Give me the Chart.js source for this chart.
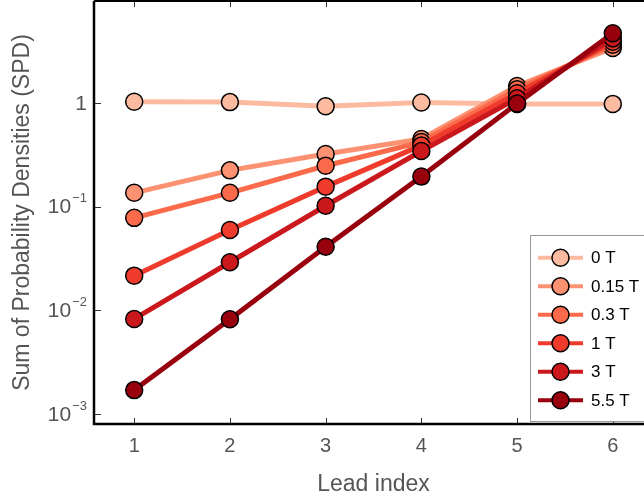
<!DOCTYPE html>
<html>
<head>
<meta charset="utf-8">
<script src="https://cdn.jsdelivr.net/npm/chart.js@4"></script>
<style>
  html, body { margin: 0; padding: 0; background: #fff; overflow: hidden; }
  #wrap { width: 644px; height: 501px; overflow: hidden; }
</style>
</head>
<body>
<div id="wrap"><canvas id="spdChart" width="660" height="501"></canvas></div>
<script>
// data
var leadIndex = [1, 2, 3, 4, 5, 6];
var fieldLabels = ['0 T', '0.15 T', '0.3 T', '1 T', '3 T', '5.5 T'];
var spd0T   = [1.03, 1.02, 0.93, 1.01, 0.98, 0.98];
var spd015T = [0.136, 0.224, 0.322, 0.45, 1.46, 3.4];
var spd03T  = [0.078, 0.136, 0.248, 0.42, 1.36, 3.65];
var spd1T   = [0.0216, 0.0596, 0.156, 0.39, 1.24, 3.9];
var spd3T   = [0.00826, 0.0291, 0.102, 0.344, 1.11, 4.2];
var spd55T  = [0.0017, 0.0082, 0.041, 0.195, 0.99, 4.7];
var yTickValues = [0.001, 0.01, 0.1, 1];
var yTickLabels = [['10', '\u22123'], ['10', '\u22122'], ['10', '\u22121'], ['1', '']];

var colors = ['#fcbba1', '#fc9272', '#fb6a4a', '#ef3b2c', '#cb181d', '#99000d'];
var allSeries = [spd0T, spd015T, spd03T, spd1T, spd3T, spd55T];
var font = 'Liberation Sans, Arial, Helvetica, sans-serif';
var grey = '#555';

var datasets = allSeries.map(function (vals, i) {
  return {
    label: fieldLabels[i],
    data: leadIndex.map(function (x, j) { return { x: x, y: vals[j] }; }),
    borderColor: colors[i],
    backgroundColor: colors[i],
    borderWidth: 5,
    pointRadius: 8.5,
    pointBorderWidth: 1.5,
    pointBorderColor: '#000',
    pointBackgroundColor: colors[i],
    tension: 0,
    order: allSeries.length - 1 - i   // darkest drawn last
  };
});

// frame, inward ticks, y labels with superscripts, legend box
var decorations = {
  id: 'decorations',
  afterDraw: function (chart) {
    var c = chart.ctx, a = chart.chartArea;
    var xs = chart.scales.x, ys = chart.scales.y;
    c.save();

    // ticks
    c.strokeStyle = '#333';
    c.lineWidth = 1;
    leadIndex.forEach(function (v) {
      var px = Math.round(xs.getPixelForValue(v)) + 0.5;
      c.beginPath();
      c.moveTo(px, a.bottom); c.lineTo(px, a.bottom - 6);
      c.moveTo(px, a.top); c.lineTo(px, a.top + 6);
      c.stroke();
    });
    yTickValues.forEach(function (v) {
      var py = Math.round(ys.getPixelForValue(v)) + 0.5;
      c.beginPath();
      c.moveTo(a.left, py); c.lineTo(a.left + 7, py);
      c.stroke();
    });

    // frame
    c.strokeStyle = '#000';
    c.lineWidth = 2.5;
    c.beginPath();
    c.moveTo(a.left, a.top); c.lineTo(a.left, a.bottom); c.lineTo(a.right, a.bottom);
    c.stroke();
    c.lineWidth = 2;
    c.beginPath();
    c.moveTo(a.left, a.top); c.lineTo(a.right, a.top); c.lineTo(a.right, a.bottom);
    c.stroke();

    // y tick labels
    c.fillStyle = grey;
    c.textBaseline = 'middle';
    yTickValues.forEach(function (v, i) {
      var py = ys.getPixelForValue(v);
      var base = yTickLabels[i][0], exp = yTickLabels[i][1];
      var right = a.left - 7;
      c.font = '13px ' + font;
      var ew = exp ? c.measureText(exp).width : 0;
      if (exp) {
        c.textAlign = 'right';
        c.fillText(exp, right, py - 8);
      }
      c.font = '21px ' + font;
      c.textAlign = 'right';
      c.fillText(base, right - ew - (exp ? 1 : 0), py + 1);
    });

    // legend
    var lx = 530.5, ly = 235.5, lh = 186;
    c.fillStyle = '#fff';
    c.fillRect(lx, ly, 140, lh);
    c.strokeStyle = '#999';
    c.lineWidth = 1;
    c.strokeRect(lx, ly, 140, lh);
    chart.data.datasets.forEach(function (ds, i) {
      var ry = 257.7 + i * 28.5;
      c.strokeStyle = ds.borderColor;
      c.lineWidth = 4;
      c.beginPath();
      c.moveTo(538, ry); c.lineTo(583, ry);
      c.stroke();
      c.beginPath();
      c.arc(560.5, ry, 8.5, 0, Math.PI * 2);
      c.fillStyle = ds.pointBackgroundColor;
      c.fill();
      c.lineWidth = 1.5;
      c.strokeStyle = '#000';
      c.stroke();
      c.fillStyle = '#000';
      c.font = '17px ' + font;
      c.textAlign = 'left';
      c.textBaseline = 'middle';
      c.fillText(ds.label, 591, ry + 1);
    });
    c.restore();
  }
};

var ctx = document.getElementById('spdChart');
var chart = new Chart(ctx, {
  type: 'line',
  data: { datasets: datasets },
  options: {
    responsive: false,
    animation: false,
    devicePixelRatio: 1,
    layout: { autoPadding: false, padding: { top: 1, right: 7, left: 0, bottom: 0 } },
    plugins: { legend: { display: false }, tooltip: { enabled: false } },
    scales: {
      x: {
        type: 'linear',
        min: 0.58,
        max: 6.42,
        grid: { display: false, drawTicks: false },
        border: { display: false },
        afterBuildTicks: function (s) { s.ticks = leadIndex.map(function (v) { return { value: v }; }); },
        afterFit: function (s) { s.height = 77; },
        ticks: { color: grey, font: { family: font, size: 20 }, padding: 10 },
        title: {
          display: true, text: 'Lead index', color: grey,
          font: { family: font, size: 23 }, padding: { top: 0, bottom: 3 }
        }
      },
      y: {
        type: 'logarithmic',
        min: 0.0008008,
        max: 9.637,
        grid: { display: false, drawTicks: false },
        border: { display: false },
        afterBuildTicks: function (s) { s.ticks = yTickValues.map(function (v) { return { value: v }; }); },
        afterFit: function (s) { s.width = 94; },
        ticks: { display: false },
        title: {
          display: true, text: 'Sum of Probability Densities (SPD)', color: grey,
          font: { family: font, size: 23 }, padding: { top: 9, bottom: 0 }
        }
      }
    }
  },
  plugins: [decorations]
});
</script>
</body>
</html>
